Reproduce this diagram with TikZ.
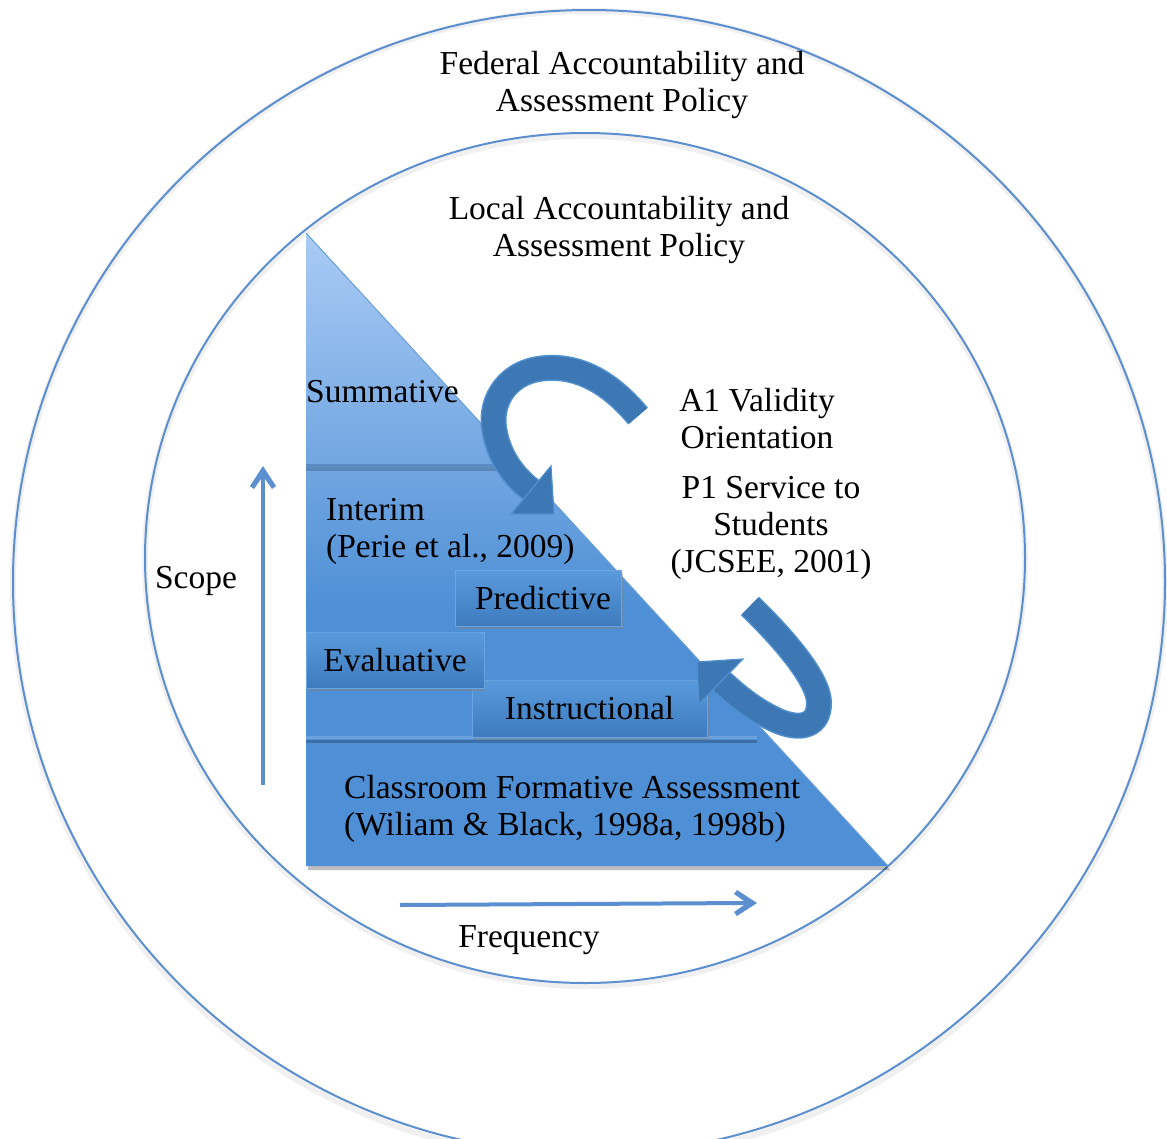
\documentclass[tikz,border=0pt]{standalone}
\usepackage{fontspec}
\setmainfont{Liberation Serif}
\usetikzlibrary{shadows,calc}
\definecolor{ring}{HTML}{5B8FD0}
\definecolor{tri}{HTML}{4E8FD5}
\definecolor{trilight}{HTML}{AACBF5}
\definecolor{arrowblue}{HTML}{3D78B4}
\definecolor{arrowedge}{HTML}{5190CF}
\definecolor{boxtop}{HTML}{5A9BDD}
\definecolor{boxbot}{HTML}{3D7BBE}
\definecolor{boxedge}{HTML}{6AA5E2}
\definecolor{bandline}{HTML}{5A8CC3}
\definecolor{divlight}{HTML}{6CA2DC}
\definecolor{slopeedge}{HTML}{6A9FD8}

\begin{document}
\begin{tikzpicture}[x=1pt,y=-1pt,
  lbl/.style={font=\fontsize{33.5}{37}\selectfont, inner sep=0pt, text=black, align=center},
  ringline/.style={draw=ring, line width=2},
  ringshadow/.style={draw=black, opacity=0.06, line width=6},
  levelbox/.style={draw=boxedge, line width=1, top color=boxtop, bottom color=boxbot,
    drop shadow={opacity=0.45, shadow xshift=2pt, shadow yshift=-3pt},
    inner sep=0pt, font=\fontsize{33.5}{37}\selectfont},
  bandouter/.style={draw=arrowedge, line width=26},
  bandinner/.style={draw=arrowblue, line width=23},
  headtri/.style={fill=arrowblue, draw=arrowedge, line width=1.2, line join=miter},
  axisline/.style={draw=ring, line width=4},
  axishead/.style={fill=ring}
]
\useasboundingbox (0,0) rectangle (1167,1138);
\clip (0,0) rectangle (1167,1138);

% policy rings
\draw[ringshadow] (589,585) ellipse [x radius=576, y radius=574];
\draw[ringline] (589,582) ellipse [x radius=576, y radius=572];
\draw[ringshadow] (585,561) ellipse [x radius=440, y radius=425];
\draw[ringline] (585,558) ellipse [x radius=440, y radius=425];

% assessment triangle
\coordinate (apex) at (306,233);
\coordinate (bl) at (306,866);
\coordinate (br) at (888,866);
\fill[black, opacity=0.25] ($(apex)+(2,4)$) -- ($(br)+(2,4)$) -- ($(bl)+(2,4)$) -- cycle;
\begin{scope}
  \clip (apex) -- (br) -- (bl) -- cycle;
  \fill[tri] (300,228) rectangle (900,870);
  \shade[top color=trilight, bottom color=tri] (300,233) rectangle (900,610);
  % level dividers
  \draw[black, opacity=0.18, line width=3] (306,469) -- (520,469);
  \draw[bandline, line width=4] (306,466) -- (520,466);
  \draw[black, opacity=0.22, line width=3] (306,741) -- (757,741);
  \draw[divlight, line width=3] (306,737) -- (757,737);
\end{scope}
\draw[slopeedge, line width=1] (apex) -- (br);

% level boxes
\node[levelbox, minimum width=235pt, minimum height=57pt] (instr) at (589.5,708.5) {Instructional};
\node[levelbox, minimum width=166pt, minimum height=56pt] (pred) at (538,598) {\hspace*{10pt}Predictive};
\node[levelbox, minimum width=178pt, minimum height=56pt] (eval) at (395,660) {Evaluative};

% level labels
\node[lbl, anchor=west] (summ) at (306,392) {Summative};
\node[lbl, anchor=west, align=left] (interim) at (326,531) {Interim\\(Perie et al., 2009)};
\node[lbl, anchor=west, align=left] (class) at (344,809) {Classroom Formative Assessment\\(Wiliam \& Black, 1998a, 1998b)};

% ring labels
\node[lbl] (federal) at (622,85) {Federal Accountability and\\Assessment Policy};
\node[lbl] (local) at (619,230) {Local Accountability and\\Assessment Policy};

% standards labels
\node[lbl] (valid) at (757,419) {A1 Validity\\Orientation};
\node[lbl] (service) at (771,528) {P1 Service to\\Students\\(JCSEE, 2001)};

% curved arrow from the top down the slope
\draw[bandouter] (638,416) .. controls (612,385) and (582,366) .. (547,368)
  .. controls (508,370) and (490,400) .. (494,428)
  .. controls (498,455) and (512,475) .. (531,490);
\draw[bandinner] (638,416) .. controls (612,385) and (582,366) .. (547,368)
  .. controls (508,370) and (490,400) .. (494,428)
  .. controls (498,455) and (512,475) .. (531,490);
\fill[headtri] (551,466) -- (554,514) -- (511,514) -- cycle;

% curved arrow returning up the slope
\draw[bandouter] (750,606) .. controls (785,640) and (819,680) .. (819,703)
  .. controls (819,725) and (802,731) .. (778,721)
  .. controls (758,712) and (740,699) .. (721,681);
\draw[bandinner] (750,606) .. controls (785,640) and (819,680) .. (819,703)
  .. controls (819,725) and (802,731) .. (778,721)
  .. controls (758,712) and (740,699) .. (721,681);
\fill[headtri] (743,659) -- (697,662) -- (699,704) -- cycle;

% scope axis
\coordinate (scopeFrom) at (263,785);
\coordinate (scopeTo) at (263,466);
\draw[axisline] (scopeFrom) -- ($(scopeTo)+(0,10)$);
\fill[axishead] (scopeTo) -- ++(13,20) -- ++(-4,3) -- ++(-9,-13) -- ++(-9,13) -- ++(-4,-3) -- cycle;
\node[lbl] (scope) at (196,581) {Scope};

% frequency axis
\coordinate (freqFrom) at (400,905);
\coordinate (freqTo) at (757,903);
\draw[axisline] (freqFrom) -- ($(freqTo)+(-10,0)$);
\fill[axishead] (freqTo) -- ++(-20,13) -- ++(-3,-4) -- ++(13,-9) -- ++(-13,-9) -- ++(3,-4) -- cycle;
\node[lbl] (freq) at (529,940) {Frequency};
\end{tikzpicture}
\end{document}
